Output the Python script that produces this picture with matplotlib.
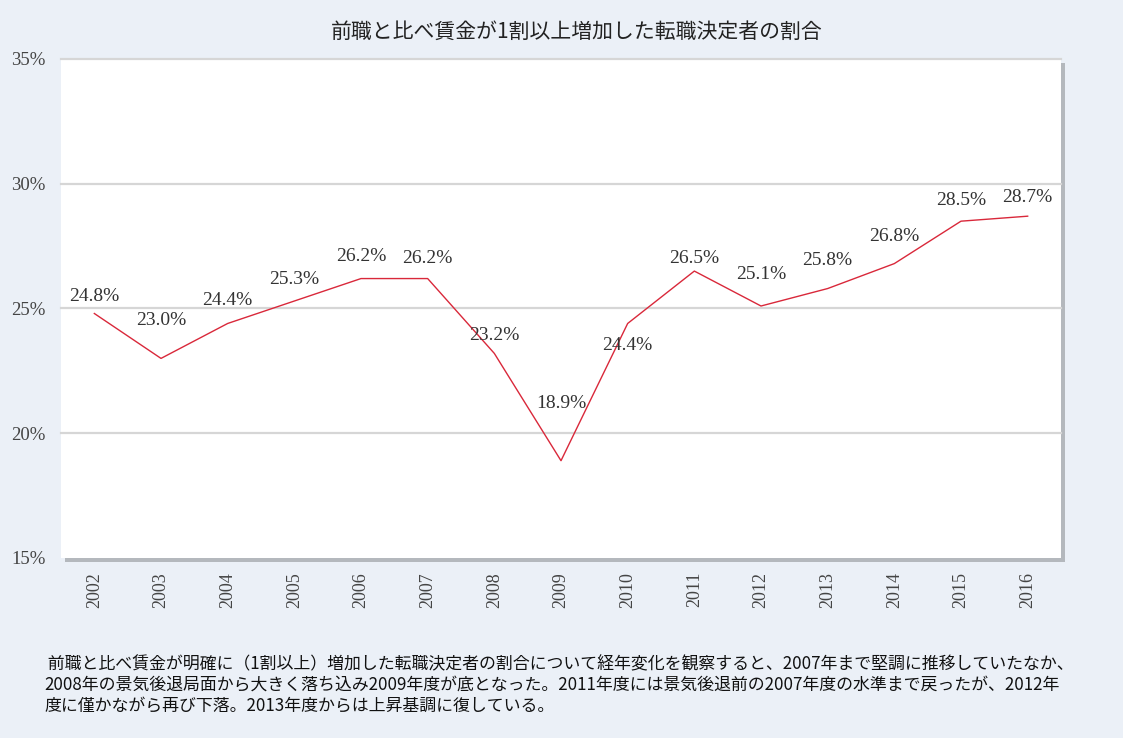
import matplotlib.pyplot as plt
from matplotlib.patches import Rectangle

# Data
years = ['2002', '2003', '2004', '2005', '2006', '2007', '2008', '2009',
         '2010', '2011', '2012', '2013', '2014', '2015', '2016']
ratio = [24.8, 23.0, 24.4, 25.3, 26.2, 26.2, 23.2, 18.9,
         24.4, 26.5, 25.1, 25.8, 26.8, 28.5, 28.7]
y_ticks = [15, 20, 25, 30, 35]

title = '前職と比べ賃金が1割以上増加した転職決定者の割合'
note = (' 前職と比べ賃金が明確に（1割以上）増加した転職決定者の割合について経年変化を観察すると、2007年まで堅調に推移していたなか、\n'
        '2008年の景気後退局面から大きく落ち込み2009年度が底となった。2011年度には景気後退前の2007年度の水準まで戻ったが、2012年\n'
        '度に僅かながら再び下落。2013年度からは上昇基調に復している。')

# label offsets in pixels (above / below the point)
label_dy = [17, 38, 23, 22, 22, 20, 18, 57, -22, 13, 32, 28, 27, 21, 19]

bg = '#ebf0f7'
jp_font = ['Noto Sans CJK JP', 'DejaVu Sans']
serif = 'Liberation Serif'

fig = plt.figure(figsize=(11.23, 7.38), dpi=100, facecolor=bg)
left, bottom, width, height = 61/1123, 180/738, 1000/1123, 499/738

ax = fig.add_axes([left, bottom, width, height])
ax.set_zorder(2)
# drop shadow behind the plot area
fig.patches.append(Rectangle((left + 4/1123, bottom - 4/738), width, height,
                             transform=fig.transFigure, facecolor='#b4b8bd',
                             edgecolor='none', zorder=1))

ax.set_facecolor('white')
x = list(range(len(years)))
ax.plot(x, ratio, color='#d9283a', linewidth=1.0, zorder=3)

for i, v in enumerate(ratio):
    ax.annotate(f'{v:.1f}%', (i, v), xytext=(0, label_dy[i]), textcoords='offset pixels',
                ha='center', va='center', fontsize=14, family=serif, color='#333333')

ax.set_xlim(-0.5, len(years) - 0.5)
ax.set_ylim(15, 35)
ax.set_yticks(y_ticks)
ax.set_yticklabels([f'{t}%' for t in y_ticks], family=serif, fontsize=13.5, color='#444444')
ax.set_xticks(x)
ax.set_xticklabels(years, rotation=90, family=serif, fontsize=13, color='#444444')
ax.tick_params(axis='both', length=0)
ax.tick_params(axis='y', pad=11)
ax.tick_params(axis='x', pad=10)
for t in y_ticks[1:]:
    ax.axhline(t, color='#d6d6d6', linewidth=1.6, zorder=1, clip_on=False)
for s in ax.spines.values():
    s.set_visible(False)

fig.text(577/1123, 1 - 32/738, title, ha='center', va='center',
         fontsize=15, family=jp_font, color='#222222')
fig.text(44/1123, 1 - 655/738, note, ha='left', va='top', fontsize=12.2,
         family=jp_font, color='#111111', linespacing=1.2)

fig.savefig('out.png', dpi=100, facecolor=bg)
